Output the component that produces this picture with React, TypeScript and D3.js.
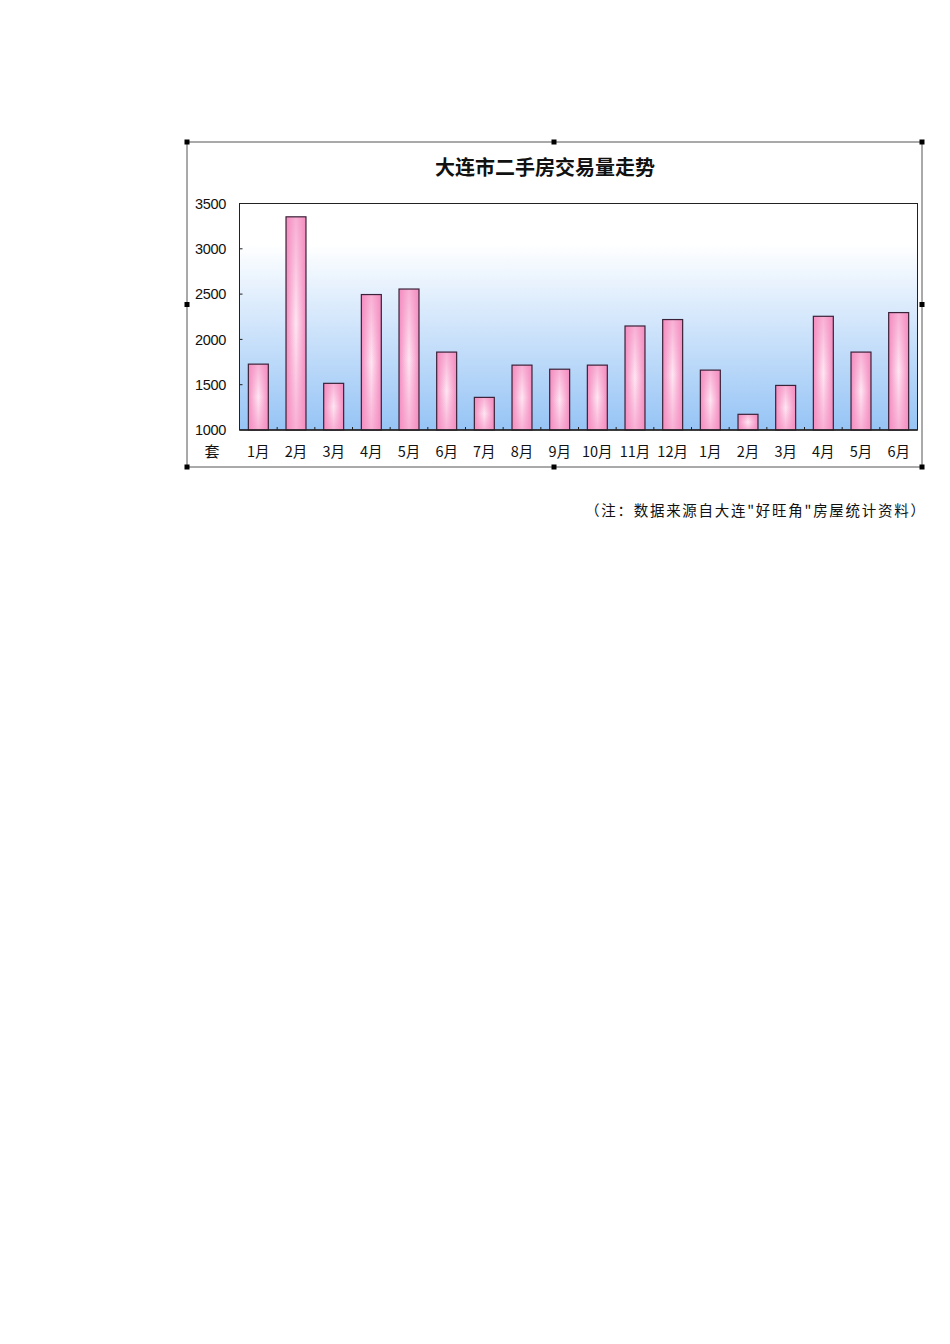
import React from "react";
import { scaleBand, scaleLinear } from "d3";

const W = 950;
const H = 1344;

const TITLE = "大连市二手房交易量走势";
const NOTE = "（注：数据来源自大连\"好旺角\"房屋统计资料）";
const UNIT = "套";

const MONTHS = [
  "1月", "2月", "3月", "4月", "5月", "6月", "7月", "8月", "9月",
  "10月", "11月", "12月", "1月", "2月", "3月", "4月", "5月", "6月",
];
const VOLUMES = [
  1727, 3353, 1515, 2495, 2556, 1860, 1360, 1716, 1671,
  1716, 2148, 2219, 1661, 1173, 1492, 2255, 1860, 2296,
];
const Y_TICKS = [1000, 1500, 2000, 2500, 3000, 3500];

// frame + plot box, in page px
const FRAME = { x0: 187, y0: 142, x1: 922, y1: 467 };
const PLOT = { left: 239.5, top: 203.5, right: 917.5, bottom: 430 };

const CN_FONT = "'Noto Sans CJK SC', sans-serif";

export default function App() {
  const keys = MONTHS.map((m, i) => `${i}`);
  const x = scaleBand<string>()
    .domain(keys)
    .range([PLOT.left, PLOT.right])
    .paddingInner(0.47)
    .paddingOuter(0.235);
  const y = scaleLinear().domain([1000, 3500]).range([PLOT.bottom, PLOT.top]);
  const step = x.step();

  const handles = [
    [FRAME.x0, FRAME.y0], [(FRAME.x0 + FRAME.x1) / 2 - 0.5, FRAME.y0], [FRAME.x1, FRAME.y0],
    [FRAME.x0, (FRAME.y0 + FRAME.y1) / 2], [FRAME.x1, (FRAME.y0 + FRAME.y1) / 2],
    [FRAME.x0, FRAME.y1], [(FRAME.x0 + FRAME.x1) / 2 - 0.5, FRAME.y1], [FRAME.x1, FRAME.y1],
  ];

  return (
    <svg
      width={W}
      height={H}
      viewBox={`0 0 ${W} ${H}`}
      style={{ position: "absolute", left: 0, top: 0, background: "#fff" }}
    >
      <defs>
        <linearGradient id="plotBg" x1="0" y1="0" x2="0" y2="1">
          <stop offset="0" stopColor="#ffffff" />
          <stop offset="0.18" stopColor="#ffffff" />
          <stop offset="0.55" stopColor="#cfe4fb" />
          <stop offset="1" stopColor="#96c4f5" />
        </linearGradient>
        <linearGradient id="barH" x1="0" y1="0" x2="1" y2="0">
          <stop offset="0" stopColor="#f48cc0" />
          <stop offset="0.5" stopColor="#ffe6f3" />
          <stop offset="1" stopColor="#f48cc0" />
        </linearGradient>
        <linearGradient id="barV" x1="0" y1="0" x2="0" y2="1">
          <stop offset="0" stopColor="#f48cc0" stopOpacity="0.6" />
          <stop offset="0.5" stopColor="#f48cc0" stopOpacity="0" />
          <stop offset="1" stopColor="#f48cc0" stopOpacity="0.6" />
        </linearGradient>
      </defs>

      {/* chart frame */}
      <rect
        x={FRAME.x0}
        y={FRAME.y0}
        width={FRAME.x1 - FRAME.x0}
        height={FRAME.y1 - FRAME.y0}
        fill="#fff"
        stroke="#555"
        strokeWidth={1}
      />

      <text
        x={545}
        y={175}
        textAnchor="middle"
        fontFamily={CN_FONT}
        fontWeight={700}
        fontSize={20}
        fill="#111"
      >
        {TITLE}
      </text>

      {/* plot area */}
      <rect
        x={PLOT.left}
        y={PLOT.top}
        width={PLOT.right - PLOT.left}
        height={PLOT.bottom - PLOT.top}
        fill="url(#plotBg)"
        stroke="#222"
        strokeWidth={1}
      />

      {MONTHS.map((m, i) => {
        const bx = x(keys[i])!;
        const by = y(VOLUMES[i]);
        const bh = y(1000) - by;
        return (
          <g key={i}>
            <rect x={bx} y={by} width={x.bandwidth()} height={bh} fill="url(#barH)" />
            <rect
              x={bx}
              y={by}
              width={x.bandwidth()}
              height={bh}
              fill="url(#barV)"
              stroke="#3a2238"
              strokeWidth={1.2}
            />
          </g>
        );
      })}

      {/* x axis line + inward ticks between categories */}
      <line x1={PLOT.left} x2={PLOT.right} y1={PLOT.bottom} y2={PLOT.bottom} stroke="#222" strokeWidth={1.3} />
      {keys.slice(1).map((k) => {
        const tx = x(k)! - (step - x.bandwidth()) / 2;
        return <line key={k} x1={tx} x2={tx} y1={PLOT.bottom} y2={PLOT.bottom - 3} stroke="#222" />;
      })}

      {/* y axis inward ticks */}
      {Y_TICKS.slice(1, -1).map((t) => (
        <line key={t} x1={PLOT.left} x2={PLOT.left + 3} y1={y(t)} y2={y(t)} stroke="#222" />
      ))}

      {/* y labels */}
      {Y_TICKS.map((t) => (
        <text
          key={t}
          x={226}
          y={y(t)}
          dy="0.36em"
          textAnchor="end"
          fontFamily="'Liberation Sans', Arial, sans-serif"
          fontSize={14.5}
          letterSpacing={-0.3}
          fill="#111"
        >
          {t}
        </text>
      ))}
      <text x={212} y={457} textAnchor="middle" fontFamily={CN_FONT} fontSize={15} fill="#111">
        {UNIT}
      </text>

      {/* x labels */}
      {MONTHS.map((m, i) => (
        <text
          key={i}
          x={x(keys[i])! + x.bandwidth() / 2}
          y={457}
          textAnchor="middle"
          fontFamily={CN_FONT}
          fontSize={14.5}
          fill="#111"
        >
          {m}
        </text>
      ))}

      {/* selection handles */}
      {handles.map(([hx, hy], i) => (
        <rect key={i} x={hx - 2.5} y={hy - 2.5} width={5} height={5} fill="#000" />
      ))}

      <text
        x={585}
        y={516}
        fontFamily={CN_FONT}
        fontSize={14.5}
        textLength={340}
        lengthAdjust="spacing"
        fill="#111"
      >
        {NOTE}
      </text>
    </svg>
  );
}
